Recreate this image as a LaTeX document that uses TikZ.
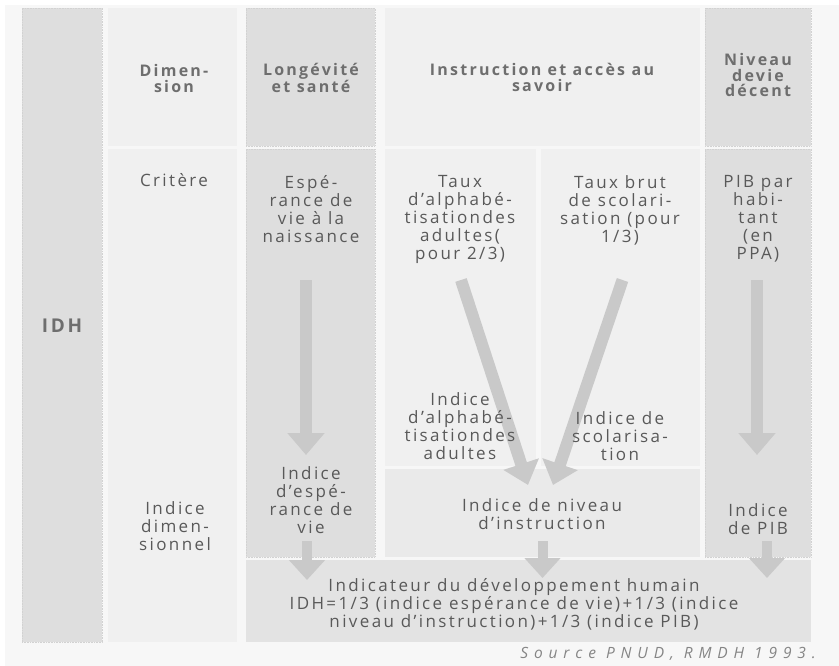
\documentclass[tikz,border=0pt]{standalone}
\usepackage{fontspec}
\setmainfont[LetterSpace=14]{Open Sans}
\newfontfamily\hdfont[LetterSpace=14]{Open Sans}
\newfontfamily\srcfont[LetterSpace=38]{Open Sans}
\usetikzlibrary{arrows.meta}
\definecolor{bgc}{HTML}{F7F7F7}
\definecolor{lightc}{HTML}{F0F0F0}
\definecolor{darkc}{HTML}{DEDEDE}
\definecolor{midc}{HTML}{EAEAEA}
\definecolor{botc}{HTML}{E3E3E3}
\definecolor{dotc}{HTML}{D2D2D2}
\definecolor{arrc}{HTML}{C9C9C9}
\definecolor{txtc}{HTML}{595959}
\definecolor{hdc}{HTML}{6E6E6E}
\definecolor{srcc}{HTML}{858585}
\begin{document}
\begin{tikzpicture}[x=1pt,y=-1pt,
  cell/.style={inner sep=0, outer sep=0, anchor=north west, draw=none},
  lcell/.style={cell, fill=lightc},
  dcell/.style={cell, fill=darkc, draw=dotc, densely dotted, line width=0.6pt},
  txt/.style={text=txtc, align=center, inner sep=0, anchor=north, font=\fontsize{17}{18}\selectfont},
  stxt/.style={text=txtc, inner sep=0, anchor=base, font=\fontsize{17}{18}\selectfont},
  head/.style={text=hdc, align=center, inner sep=0, anchor=north, font=\hdfont\bfseries\fontsize{16}{15.8}\selectfont},
  bigarrow/.style={draw=arrc, line width=12pt, -{Triangle[width=36pt,length=22pt]}},
  smallarrow/.style={draw=arrc, line width=10pt, -{Triangle[width=35pt,length=20pt]}}]
\useasboundingbox (0,0) rectangle (839,666);
\fill[white] (0,0) rectangle (839,666);
\fill[bgc] (5,5) rectangle (839,666);

% cells
\node[dcell, minimum width=80pt, minimum height=634pt] (idh) at (22,8) {};
\node[lcell, minimum width=129pt, minimum height=138pt] (dimH) at (108,8) {};
\node[lcell, minimum width=129pt, minimum height=493pt] (dimB) at (108,149) {};
\node[dcell, minimum width=129pt, minimum height=138pt] (lonH) at (246,8) {};
\node[dcell, minimum width=129pt, minimum height=408pt] (lonB) at (246,149) {};
\node[lcell, minimum width=315pt, minimum height=138pt] (insH) at (385,8) {};
\node[lcell, minimum width=151pt, minimum height=317pt] (alpha) at (385,149) {};
\node[lcell, minimum width=159pt, minimum height=317pt] (scol) at (541,149) {};
\node[cell, fill=midc, minimum width=315pt, minimum height=88pt] (insI) at (385,469) {};
\node[dcell, minimum width=106pt, minimum height=138pt] (nivH) at (705,8) {};
\node[dcell, minimum width=106pt, minimum height=408pt] (pib) at (705,149) {};
\node[cell, fill=botc, minimum width=565pt, minimum height=82pt] (ind) at (246,560) {};

% arrow end points
\coordinate (lonS) at (306,280);
\coordinate (lonE) at (306,455);
\coordinate (pibS) at (757,280);
\coordinate (pibE) at (757,455);
\coordinate (alpS) at (461,280);
\coordinate (alpE) at (528,485);
\coordinate (scoS) at (622.5,280);
\coordinate (scoE) at (553,485);
\coordinate (lonS2) at (307,541);
\coordinate (lonE2) at (307,580);
\coordinate (insS2) at (542.5,541);
\coordinate (insE2) at (542.5,578);
\coordinate (pibS2) at (767,541);
\coordinate (pibE2) at (767,578);

\draw[bigarrow] (lonS) -- (lonE);
\draw[bigarrow] (pibS) -- (pibE);
\draw[bigarrow] (alpS) -- (alpE);
\draw[bigarrow] (scoS) -- (scoE);
\draw[smallarrow] (lonS2) -- (lonE2);
\draw[smallarrow] (insS2) -- (insE2);
\draw[smallarrow] (pibS2) -- (pibE2);

% headers
\node[head] (tDim) at (174,64) {Dimen-\\sion};
\node[head] (tLon) at (311,63) {Longévité\\et santé};
\node[head] (tIns) at (542,63) {Instruction et accès au\\savoir};
\node[head] (tNiv) at (758,53) {Niveau\\devie\\décent};
\node[text=hdc, inner sep=0, anchor=base, font=\hdfont\bfseries\fontsize{19}{19}\selectfont] (tIDH) at (62,332) {IDH};

% criteria
\node[stxt] (tCrit) at (174,187) {Critère};
\node[txt] (tEsp) at (311,175) {Espé-\\rance de\\vie à la\\naissance};
\node[txt] (tAlp) at (460,175) {Taux\\d’alphabé-\\tisationdes\\adultes(\\pour 2/3)};
\node[txt] (tSco) at (620,175) {Taux brut\\de scolari-\\sation (pour\\1/3)};
\node[txt] (tPIB) at (758,175) {PIB par\\habi-\\tant\\(en\\PPA)};

% indices
\node[txt] (iAlp) at (460,392) {Indice\\d’alphabé-\\tisationdes\\adultes};
\node[txt] (iSco) at (620,411) {Indice de\\scolarisa-\\tion};
\node[txt] (iNiv) at (542,498) {Indice de niveau\\d’instruction};
\node[txt] (iEsp) at (311,466) {Indice\\d’espé-\\rance de\\vie};
\node[txt] (iDim) at (175,501) {Indice\\dimen-\\sionnel};
\node[txt] (iPIB) at (758,503) {Indice\\de PIB};
\node[txt] (tInd) at (514,578) {Indicateur du développement humain\\IDH=1/3 (indice espérance de vie)+1/3 (indice\\niveau d’instruction)+1/3 (indice PIB)};

\node[text=srcc, inner sep=0, anchor=base east, font=\srcfont\itshape\fontsize{15.5}{16}\selectfont] (src) at (816,658) {Source PNUD, RMDH 1993.};
\end{tikzpicture}
\end{document}
